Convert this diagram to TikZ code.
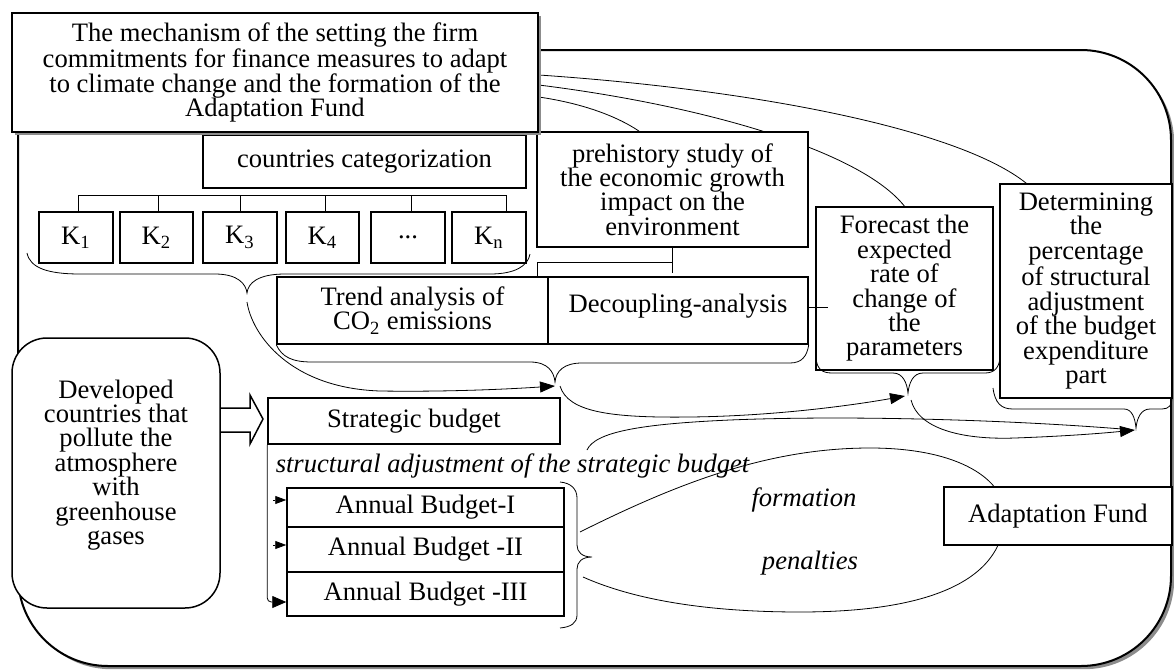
\documentclass[tikz,border=0pt]{standalone}
\usepackage{fontspec}
\setmainfont{Liberation Serif}
\usetikzlibrary{arrows.meta,calc,shadows}
\pgfdeclarelayer{back}
\pgfsetlayers{back,main}
\newcommand\txtsize{\fontsize{13.3pt}{12.2pt}\selectfont}
\begin{document}
\begin{tikzpicture}[x=0.5pt,y=-0.5pt,
  line width=0.75pt,
  box/.style={draw, fill=white, inner sep=0pt, align=center, font=\txtsize},
  free/.style={inner sep=0pt, align=center, font=\txtsize},
  note/.style={inner sep=0pt, font=\txtsize\itshape},
  dropsh/.style={drop shadow={shadow xshift=1.6pt, shadow yshift=-1.6pt, fill=black!45, opacity=1}},
  tipbig/.style={-{Triangle[length=7.5pt,width=5.5pt]}},
  tipsmall/.style={-{Triangle[length=5.5pt,width=4pt]}},
  tipmid/.style={-{Triangle[length=7pt,width=6pt]}},
]
\useasboundingbox (0,0) rectangle (1174,670);

% ---- boxes ----
\node[box, minimum width=161.5pt, minimum height=26.5pt] (cat) at (364.5,161.5) {countries categorization};
\node[box, minimum width=37pt,   minimum height=25.5pt] (k1) at (76,237.5)  {K\textsubscript{1}};
\node[box, minimum width=36.5pt, minimum height=25.5pt] (k2) at (156.5,237.5) {K\textsubscript{2}};
\node[box, minimum width=37pt,   minimum height=25.5pt] (k3) at (240,237.5) {K\textsubscript{3}};
\node[box, minimum width=36.5pt, minimum height=25.5pt] (k4) at (322.5,237.5) {K\textsubscript{4}};
\node[box, minimum width=37pt,   minimum height=25.5pt] (kd) at (408,237.5) {...};
\node[box, minimum width=37pt,   minimum height=25.5pt] (kn) at (489,237.5) {K\textsubscript{n}};

\node[box, minimum width=135.5pt, minimum height=57.5pt] (pre) at (672.5,189.5)
  {prehistory study of\\the economic growth\\impact on the\\environment};
\node[box, minimum width=135.5pt, minimum height=33.5pt] (trend) at (412.5,310.5)
  {Trend analysis of\\CO\textsubscript{2} emissions};
\node[box, minimum width=130pt, minimum height=33.5pt, text depth=7.7pt] (dec) at (678,310.5)
  {Decoupling-analysis};
\node[box, minimum width=88.5pt, minimum height=81.5pt] (fore) at (904.5,288.5)
  {Forecast the\\expected\\rate of\\change of\\the\\parameters};
\node[box, minimum width=86pt, minimum height=107pt] (det) at (1086,291)
  {Determining\\the\\percentage\\of structural\\adjustment\\of the budget\\expenditure\\part};

% outline arrow from the polluters to the strategic budget
\draw (220,408) -- (250,408) -- (250,395) -- (263,419) -- (250,444) -- (250,432) -- (220,432);

\node[draw, fill=white, rounded corners=17.5pt, minimum width=104pt, minimum height=135pt] (dev) at (116,473) {};
\node[free] (devtext) at (116,465)
  {Developed\\countries that\\pollute the\\atmosphere\\with\\greenhouse\\gases};

\node[box, minimum width=146pt, minimum height=23pt] (strat) at (414,421) {Strategic budget};
\node[note, anchor=west] (adj) at (275,466) {structural adjustment of the strategic budget};
\node[box, minimum width=138.5pt, minimum height=19.5pt] (a1) at (425.5,507.5) {Annual Budget-I};
\node[box, minimum width=138.5pt, minimum height=22.5pt] (a2) at (425.5,549.5) {Annual Budget -II};
\node[box, minimum width=138.5pt, minimum height=22pt]   (a3) at (425.5,594) {Annual Budget -III};
\node[note] (formation) at (804,500) {formation};
\node[note] (penalties) at (810,563) {penalties};
\node[box, minimum width=114pt, minimum height=29pt] (fund) at (1058,516) {Adaptation Fund};

\node[box, dropsh, minimum width=263pt, minimum height=59.5pt] (title) at (275,72.5)
  {The mechanism of the setting the firm\\commitments for finance measures to adapt\\to climate change and the formation of the\\Adaptation Fund};

% ---- frame and links lying under the boxes ----
\begin{pgfonlayer}{back}
  \draw[line width=1pt, fill=white, rounded corners=45pt, dropsh] (18,50) rectangle (1171,666);
  \draw ($(title.east)+(0,2.5)$) .. controls (760,90) and (960,130) .. ($(det.north west)+(27,0)$);
  \draw ($(title.east)+(0,12.5)$) .. controls (700,105) and (860,150) .. (fore.north);
  \draw ($(title.east)+(0,24.5)$) .. controls (580,103) and (615,115) .. ($(pre.north west)+(103,0)$);
  % formation / penalties loop
  \draw (580,532) .. controls (680,482) and (770,448) .. (870,448)
        .. controls (960,448) and (1005,480) .. (1005,515)
        .. controls (1003,585) and (920,612) .. (800,612)
        .. controls (700,612) and (630,598) .. (583,577);
\end{pgfonlayer}

% ---- category tree ----
\draw ($(k1.north)+(2,-16)$) -- ($(kn.north)+(17,-16)$);
\foreach \n/\dx in {k1/2, k2/1.5, k3/0, k4/2.5, kd/3, kn/17}
  \draw ($(\n.north)+(\dx,0)$) -- ++(0,-16);

% prehistory study feeding the analyses
\draw (pre.south) -- ++(0,25);
\draw (pre.south) |- ($(trend.north east)+(-11,-14)$) -- ($(trend.north east)+(-11,0)$);
\draw ($(dec.east)+(0,-3.5)$) -- ++(19,0);

% ---- braces ----
\coordinate (ktip) at (247,293);
\coordinate (ttip) at (555,382);
\coordinate (ftip) at (908,393);
\coordinate (dtip) at (1136,428);
\coordinate (atip) at (592,557);

\draw (27,253) .. controls (30,268) and (48,274) .. (80,274) -- (215,274)
      .. controls (238,274) and (246,284) .. (ktip)
      .. controls (248,283) and (258,274) .. (285,274) -- (490,274)
      .. controls (515,274) and (528,266) .. (530,254);
\draw (trend.south west) .. controls (282,357) and (292,362) .. (312,362) -- (530,362)
      .. controls (548,362) and (554,372) .. (ttip)
      .. controls (556,371) and (564,363) .. (582,363) -- (790,363)
      .. controls (802,363) and (807,356) .. (dec.south east);
\draw (816,358) .. controls (817,369) and (822,373) .. (832,373) -- (893,373)
      .. controls (903,373) and (907,383) .. (ftip)
      .. controls (909,383) and (913,373) .. (923,373) -- (985,373)
      .. controls (995,373) and (999,367) .. (1000,358);
\draw (993,388) .. controls (995,403) and (1001,409) .. (1013,409) -- (1124,409)
      .. controls (1132,409) and (1135,418) .. (dtip)
      .. controls (1137,418) and (1141,409) .. (1150,409) -- (1162,409)
      .. controls (1169,409) and (1172,405) .. (1172,398);
\draw (560,482) .. controls (571,483) and (577,489) .. (577,498) -- (577,545)
      .. controls (577,552) and (582,557) .. (atip)
      .. controls (582,557) and (577,562) .. (577,569) -- (577,615)
      .. controls (577,623) and (571,627) .. (560,628);

% ---- arrows between brace tips ----
\coordinate (kout) at (247,302);
\coordinate (tin)  at (555,386);
\coordinate (tout) at (560,386);
\coordinate (fin)  at (905,396);
\coordinate (fout) at (911,400);
\coordinate (din)  at (1135,430);
\coordinate (sout) at (587,450);

\draw[tipbig] (kout) .. controls (252,335) and (290,388) .. (380,391)
      .. controls (450,392) and (510,389) .. (tin);
\draw[tipbig] (tout) .. controls (568,412) and (610,418) .. (690,417)
      .. controls (780,416) and (860,404) .. (fin);
\draw[tipbig] (fout) .. controls (918,428) and (960,440) .. (1015,438)
      .. controls (1070,436) and (1105,433) .. (din);
\draw (sout) .. controls (595,432) and (640,424) .. (730,420)
      .. controls (850,415) and (1010,420) .. (1122,429);

% ---- strategic budget into the annual budgets ----
\draw[tipmid, rounded corners=2pt] (strat.south west) |- ($(a3.west)+(0,8)$);
\draw[tipsmall] ($(a1.west)+(-13,-7.5)$) -- ($(a1.west)+(0,-7.5)$);
\draw[tipsmall] ($(a2.west)+(-13,-4.5)$) -- ($(a2.west)+(0,-4.5)$);
\end{tikzpicture}
\end{document}
